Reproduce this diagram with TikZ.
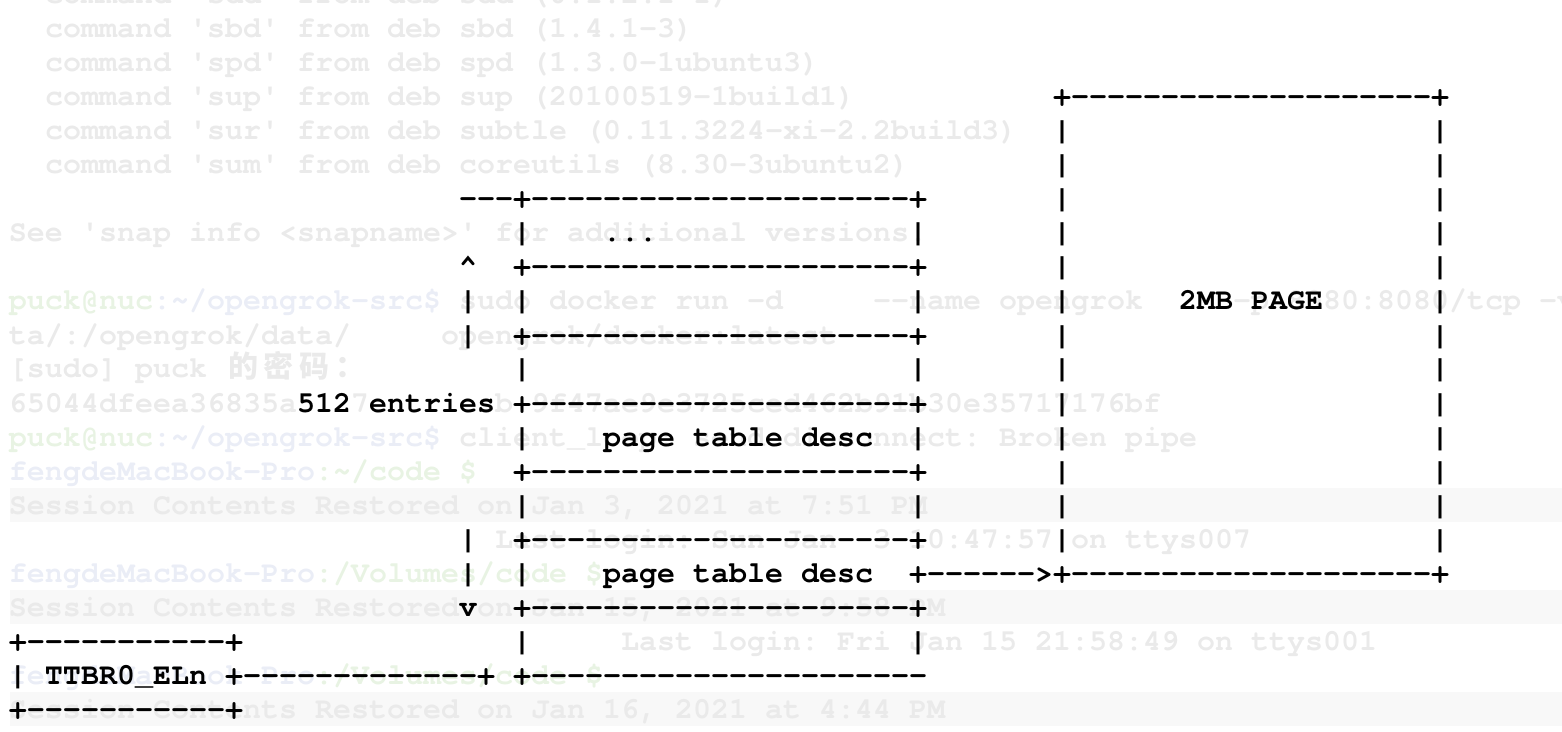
\documentclass[tikz,border=0pt]{standalone}
\usepackage{fontspec}
\setmonofont{texgyrecursor}[Extension=.otf, UprightFont=*-regular, BoldFont=*-bold,
  ItalicFont=*-italic, BoldItalicFont=*-bolditalic]
\newfontfamily\cjkfont{Noto Sans CJK SC}

\definecolor{bggray}{RGB}{234,234,234}
\definecolor{bggreen}{RGB}{232,243,227}
\definecolor{bgblue}{RGB}{234,237,246}
\definecolor{bandgray}{RGB}{248,248,248}

\newcommand\asciifont{\fontsize{15pt}{17pt}\selectfont\ttfamily\bfseries}
\newcommand\dashes[1]{\foreach\i in {1,...,#1}{-}}
\newcommand\cjkchar[1]{\makebox[18pt]{\cjkfont\fontsize{15pt}{17pt}\selectfont #1}}

\begin{document}
\begin{tikzpicture}[
    x=9pt, y=-17pt, shift={(4.5pt,-19pt)},
    fg/.style={anchor=base west, inner sep=0pt, outer sep=0pt, font=\asciifont, text=black},
    bg/.style={fg, text=bggray},
    bggreentext/.style={fg, text=bggreen},
    bgbluetext/.style={fg, text=bgblue},
    ]
    \useasboundingbox (-0.5,-1.1176) rectangle (86.2778,20.4118);

    %Background (terminal behind the drawing)
    \foreach \r in {14,17,20}
        \fill[bandgray] (0.0556,{\r-0.77}) rectangle (86.2778,{\r+0.23});

    \node[bg] (cmdtop) at (2,-1) {command 'sdd' from deb sdd (0.1.2.1-1)};
    \node[bg] (cmdsbd) at (2,0) {command 'sbd' from deb sbd (1.4.1-3)};
    \node[bg] (cmdspd) at (2,1) {command 'spd' from deb spd (1.3.0-1ubuntu3)};
    \node[bg] (cmdsup) at (2,2) {command 'sup' from deb sup (20100519-1build1)};
    \node[bg] (cmdsur) at (2,3) {command 'sur' from deb subtle (0.11.3224-xi-2.2build3)};
    \node[bg] (cmdsum) at (2,4) {command 'sum' from deb coreutils (8.30-3ubuntu2)};
    \node[bg] (snapinfo) at (0,6) {See 'snap info <snapname>' for additional versions.};

    \node[bggreentext] (user8) at (0,8) {puck@nuc};
    \node[bgbluetext] (path8) at (8,8) {:\textasciitilde/opengrok-src\$};
    \node[bg] (docker) at (25,8) {sudo docker run -d};
    \node[bg] (dockername) at (48,8) {-{}-name opengrok};
    \node[bg] (dockerport) at (68,8) {-p 8080:8080/tcp -v};
    \node[bg] (dockervol) at (0,9) {ta/:/opengrok/data/};
    \node[bg] (dockerimg) at (24,9) {opengrok/docker:latest};
    \node[bg] (sudo) at (0,10) {[sudo] puck \cjkchar{的}\cjkchar{密}\cjkchar{码}\cjkchar{：}};
    \node[bg] (hashA) at (0,11) {65044dfeea36835a};
    \node[bg] (hashB) at (19,11) {7};
    \node[bg] (hashC) at (27,11) {b};
    \node[bg] (hashD) at (29,11) {9f47ae9e3725ced462b91b30e35717176bf};
    \node[bggreentext] (user12) at (0,12) {puck@nuc};
    \node[bgbluetext] (path12) at (8,12) {:\textasciitilde/opengrok-src\$};
    \node[bg] (brokenpipe) at (25,12) {client\_loop: send disconnect: Broken pipe};
    \node[bgbluetext] (host13) at (0,13) {fengdeMacBook-Pro};
    \node[bggreentext] (path13) at (17,13) {:\textasciitilde/code \$};
    \node[bg] (session14) at (0,14) {Session Contents Restored on Jan 3, 2021 at 7:51 PM};
    \node[bg] (login15a) at (27,15) {Last login: Sun Jan};
    \node[bg] (login15b) at (48,15) {3 10:47:57 on ttys007};
    \node[bgbluetext] (host16) at (0,16) {fengdeMacBook-Pro};
    \node[bggreentext] (path16) at (17,16) {:/Volumes/code \$};
    \node[bg] (session17) at (0,17) {Session Contents Restored on Jan 15, 2021 at 9:58 PM};
    \node[bg] (login18) at (34,18) {Last login: Fri Jan 15 21:58:49 on ttys001};
    \node[bgbluetext] (host19) at (0,19) {fengdeMacBook-Pro};
    \node[bggreentext] (path19) at (17,19) {:/Volumes/code \$};
    \node[bg] (session20) at (0,20) {Session Contents Restored on Jan 16, 2021 at 4:44 PM};

    %Page table
    \node[fg] (tabletop) at (25,5) {\dashes{3}+\dashes{21}+};
    \foreach \r in {7,9,...,17}
        \node[fg] (row\r) at (28,\r) {+\dashes{21}+};
    \foreach \r in {6,8,...,18}
        \node[fg] (left\r) at (28,\r) {|};
    \foreach \r in {6,8,10,12,14,18}
        \node[fg] (right\r) at (50,\r) {|};
    \node[fg] (tablebottom) at (28,19) {+\dashes{22}};

    \node[fg] (more) at (33,6) {...};
    \node[fg] (descA) at (33,12) {page table desc};
    \node[fg] (descB) at (33,16) {page table desc};
    \node[fg] (entries) at (16,11) {512 entries};

    %Entries arrow
    \node[fg] (up) at (25,7) {\textasciicircum};
    \foreach \r in {8,9,15,16}
        \node[fg] (span\r) at (25,\r) {|};
    \node[fg] (down) at (25,17) {v};

    %TTBR0_ELn
    \node[fg] (ttbrtop) at (0,18) {+\dashes{11}+};
    \node[fg] (ttbr) at (0,19) {| TTBR0\_ELn +\dashes{13}+};
    \node[fg] (ttbrbottom) at (0,20) {+\dashes{11}+};

    %2MB page
    \node[fg] (pagetop) at (58,2) {+\dashes{20}+};
    \foreach \r in {3,...,15} {
        \node[fg] (pageleft\r) at (58,\r) {|};
        \node[fg] (pageright\r) at (79,\r) {|};
    }
    \node[fg] (pagelabel) at (65,8) {2MB PAGE};
    \node[fg] (blockarrow) at (50,16) {+\dashes{6}>+\dashes{20}+};
\end{tikzpicture}
\end{document}
